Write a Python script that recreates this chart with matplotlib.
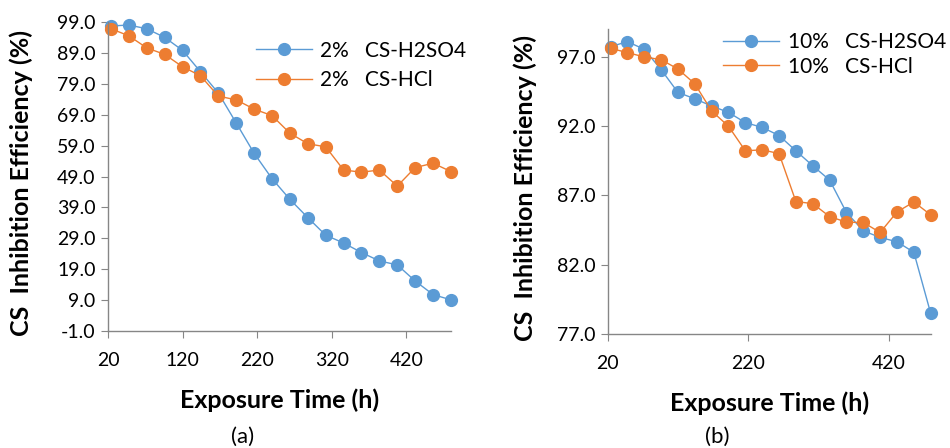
import matplotlib.pyplot as plt

# exposure times (h)
hours = [24, 48, 72, 96, 120, 144, 168, 192, 216, 240,
         264, 288, 312, 336, 360, 384, 408, 432, 456, 480]

# (a) 2% solutions
ie_h2so4_2 = [97.7, 98.0, 96.8, 94.0, 89.8, 82.9, 76.0, 66.3, 56.5, 48.3,
              41.6, 35.7, 30.0, 27.5, 24.4, 21.7, 20.4, 15.2, 10.8, 9.1]
ie_hcl_2 = [96.8, 94.5, 90.6, 88.5, 84.5, 81.6, 75.0, 73.8, 70.8, 68.7,
            63.0, 59.6, 58.6, 51.1, 50.4, 51.1, 45.9, 51.9, 53.3, 50.6]

# (b) 10% solutions
ie_h2so4_10 = [97.72, 98.08, 97.53, 96.07, 94.42, 93.96, 93.44, 92.98, 92.24, 91.90,
               91.31, 90.21, 89.13, 88.10, 85.76, 84.44, 83.96, 83.65, 82.89, 78.48]
ie_hcl_10 = [97.60, 97.29, 96.98, 96.78, 96.11, 95.04, 93.08, 91.98, 90.21, 90.28,
             90.01, 86.55, 86.40, 85.47, 85.06, 85.04, 84.32, 85.80, 86.52, 85.59]

yticks_a = [-1.0, 9.0, 19.0, 29.0, 39.0, 49.0, 59.0, 69.0, 79.0, 89.0, 99.0]
yticks_b = [77.0, 82.0, 87.0, 92.0, 97.0]
xticks_a = [20, 120, 220, 320, 420]
xticks_b = [20, 220, 420]

plt.rcParams['font.family'] = ['Lato', 'DejaVu Sans']

blue = '#5B9BD5'
orange = '#ED7D31'

fig = plt.figure(figsize=(9.5, 4.48), dpi=100)
ax1 = fig.add_axes([0.1137, 0.261, 0.361, 0.690])
ax2 = fig.add_axes([0.6397, 0.2545, 0.340, 0.681])


def style(ax, xt, yt, ylim, ylabx):
    for s in ['top', 'right']:
        ax.spines[s].set_visible(False)
    for s in ['left', 'bottom']:
        ax.spines[s].set_color('#868686')
        ax.spines[s].set_linewidth(1.0)
    ax.set_xlim(20, 480)
    ax.set_ylim(*ylim)
    ax.set_xticks(xt)
    ax.set_yticks(yt)
    ax.set_yticklabels(['%.1f' % v for v in yt])
    ax.tick_params(axis='both', direction='out', length=5, color='#868686',
                   labelsize=14, pad=4)
    ax.tick_params(axis='x', pad=10)
    ax.set_ylabel('CS  Inhibition Efficiency (%)', fontsize=18, fontweight='bold')
    ax.yaxis.set_label_coords(ylabx, 0.48)
    ax.set_xlabel('Exposure Time (h)', fontsize=18, fontweight='bold', labelpad=14)


ax1.plot(hours, ie_h2so4_2, '-o', color=blue, lw=1, ms=8.5, label='2%   CS-H2SO4',
         clip_on=False)
ax1.plot(hours, ie_hcl_2, '-o', color=orange, lw=1, ms=8.5, label='2%   CS-HCl',
         clip_on=False)
style(ax1, xticks_a, yticks_a, (-1, 99), -0.22)
ax1.legend(loc='upper right', bbox_to_anchor=(1.1, 1.0), frameon=False,
           fontsize=15, handlelength=2.7, handletextpad=0.4, labelspacing=0.45)

ax2.plot(hours, ie_h2so4_10, '-o', color=blue, lw=1, ms=8.5, label='10%   CS-H2SO4',
         clip_on=False)
ax2.plot(hours, ie_hcl_10, '-o', color=orange, lw=1, ms=8.5, label='10%   CS-HCl',
         clip_on=False)
style(ax2, xticks_b, yticks_b, (77, 99), -0.22)
ax2.legend(loc='upper right', bbox_to_anchor=(1.105, 1.05), frameon=False,
           fontsize=15, handlelength=2.7, handletextpad=0.4, labelspacing=0.2)

fig.text(243 / 950, 1 - 437 / 448, '(a)', fontsize=16, ha='center', va='center')
fig.text(717 / 950, 1 - 437 / 448, '(b)', fontsize=16, ha='center', va='center')

fig.savefig('out.png', dpi=100)
